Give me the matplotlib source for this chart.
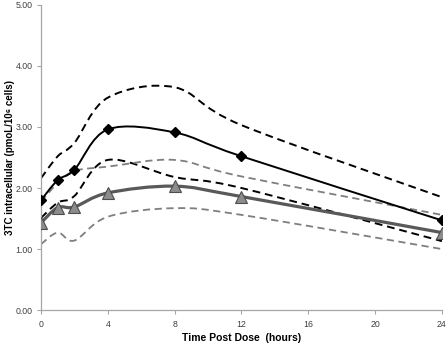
import numpy as np
import matplotlib
matplotlib.use("Agg")
import matplotlib.pyplot as plt
from matplotlib.path import Path
from matplotlib.patches import PathPatch

plt.rcParams['font.family'] = ['Liberation Sans', 'DejaVu Sans']

# time points (hours)
hours = [0, 1, 2, 4, 8, 12, 24]

# observed mean (black diamonds) and model (grey triangles)
black_mean = [1.80, 2.13, 2.30, 2.96, 2.91, 2.52, 1.47]
gray_mean = [1.43, 1.68, 1.69, 1.92, 2.03, 1.86, 1.27]

# bounds
black_upper = [2.16, 2.52, 2.74, 3.48, 3.65, 3.03, 1.85]
black_lower = [1.51, 1.76, 1.87, 2.46, 2.18, 2.00, 1.13]
gray_upper = [1.78, 2.08, 2.28, 2.35, 2.46, 2.19, 1.56]
gray_lower = [1.08, 1.27, 1.14, 1.53, 1.67, 1.56, 1.00]


def smooth_path(x, y):
    # excel style smoothed line: cubic bezier through the points
    pts = np.column_stack([x, y]).astype(float)
    n = len(pts)
    verts = [pts[0]]
    codes = [Path.MOVETO]
    for i in range(n - 1):
        p0 = pts[max(i - 1, 0)]
        p1 = pts[i]
        p2 = pts[i + 1]
        p3 = pts[min(i + 2, n - 1)]
        c1 = p1 + (p2 - p0) / 6.0
        c2 = p2 - (p3 - p1) / 6.0
        verts += [c1, c2, p2]
        codes += [Path.CURVE4] * 3
    return Path(verts, codes)


def add_curve(ax, x, y, **kw):
    patch = PathPatch(smooth_path(x, y), fill=False, capstyle="butt", **kw)
    ax.add_patch(patch)


fig = plt.figure(figsize=(4.48, 3.45), dpi=100)
ax = fig.add_axes([0.0915, 0.101, 0.895, 0.885])

add_curve(ax, hours, black_upper, edgecolor="black", lw=1.4, linestyle=(0, (4, 2.5)))
add_curve(ax, hours, black_lower, edgecolor="black", lw=1.4, linestyle=(0, (4, 2.5)))
add_curve(ax, hours, gray_upper, edgecolor="#7f7f7f", lw=1.3, linestyle=(0, (4, 2.5)))
add_curve(ax, hours, gray_lower, edgecolor="#7f7f7f", lw=1.3, linestyle=(0, (4, 2.5)))
add_curve(ax, hours, gray_mean, edgecolor="#595959", lw=2.3)
add_curve(ax, hours, black_mean, edgecolor="black", lw=1.4)

ax.plot(hours, gray_mean, linestyle="none", marker="^", markersize=8,
        markerfacecolor="#8c8c8c", markeredgecolor="#4d4d4d", markeredgewidth=0.8, zorder=5)
ax.plot(hours, black_mean, linestyle="none", marker="D", markersize=5.5,
        color="black", zorder=6)

ax.set_xlim(0, 24)
ax.set_ylim(0, 5)
ax.set_xticks(range(0, 25, 4))
ax.set_yticks(np.arange(0, 5.01, 1))
ax.set_yticklabels(["%.2f" % v for v in np.arange(0, 5.01, 1)])

for side in ["top", "right"]:
    ax.spines[side].set_visible(False)
for side in ["left", "bottom"]:
    ax.spines[side].set_color("#a6a6a6")
    ax.spines[side].set_linewidth(0.9)
ax.tick_params(axis="both", colors="#a6a6a6", labelcolor="#404040", labelsize=6.3,
               length=3, width=0.8)
ax.tick_params(axis="y", pad=3)
ax.tick_params(axis="x", pad=4)

ax.set_xlabel("Time Post Dose  (hours)", fontsize=7.5, fontweight="bold", labelpad=3)
ax.set_ylabel("3TC intracellular (pmoL/10\u2076 cells)", fontsize=7, fontweight="bold")
ax.yaxis.set_label_coords(-0.066, 0.5)

fig.savefig("out.png", dpi=100)
